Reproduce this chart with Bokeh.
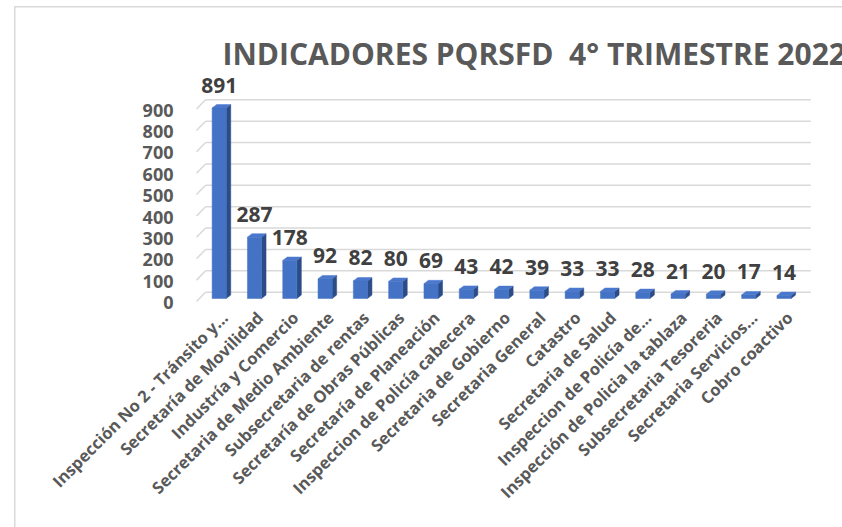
import math
from bokeh.plotting import figure
from bokeh.models import Range1d, FixedTicker, ColumnDataSource
from bokeh.core.properties import value
from bokeh.embed import file_html
from bokeh.resources import INLINE

# ---- data ----
categories = [
    "Inspección No 2 - Tránsito y...",
    "Secretaría de Movilidad",
    "Industría y Comercio",
    "Secretaria de Medio Ambiente",
    "Subsecretaria de rentas",
    "Secretaría de Obras Públicas",
    "Secretaría de Planeación",
    "Inspeccion de Policía cabecera",
    "Secretaria de Gobierno",
    "Secretaria General",
    "Catastro",
    "Secretaria de Salud",
    "Inspeccion de Policía de...",
    "Inspección de Policia la tablaza",
    "Subsecretaria Tesoreria",
    "Secretaria Servicios...",
    "Cobro coactivo",
]
counts = [891, 287, 178, 92, 82, 80, 69, 43, 42, 39, 33, 33, 28, 21, 20, 17, 14]
y_ticks = [0, 100, 200, 300, 400, 500, 600, 700, 800, 900]
title_text = "INDICADORES PQRSFD\u00a0 4° TRIMESTRE 2022"

# ---- style / geometry ----
FONT = "Open Sans"
GREY = "#595959"
DARK = "#404040"
FRONT = "#4472C4"
SIDE = "#2B4C87"
TOP = "#4A78CC"
GRID = "#D9D9D9"
bw = 0.40      # bar front width (category units)
dx = 0.127     # 3D depth (x, category units)
dy = 16.0      # 3D depth (y, value units)
back_off = 29.5
front_off = -14.0
tick_off = -19
lab_shift = 0.15

p = figure(width=842, height=527, output_backend="svg", toolbar_location=None,
           x_range=Range1d(-0.813, 17.657), y_range=Range1d(-28.06, 1066.4),
           min_border_left=190, min_border_right=0, min_border_top=70,
           min_border_bottom=223)
p.outline_line_color = None
p.xgrid.visible = False
p.ygrid.visible = False
p.background_fill_color = None
p.border_fill_color = None
p.styles = {
    "background-color": "white",
    "background-image": "linear-gradient(#D9D9D9, #D9D9D9), linear-gradient(#D9D9D9, #D9D9D9)",
    "background-size": "1.5px 100%, 100% 1.5px",
    "background-position": "14px 6px, 14px 6px",
    "background-repeat": "no-repeat",
}

n = len(categories)
xs = list(range(n))

# gridlines (back wall + left diagonal)
p.segment(x0=[-0.388] * len(y_ticks), y0=[t + back_off for t in y_ticks],
          x1=[16.76] * len(y_ticks), y1=[t + back_off for t in y_ticks],
          line_color=GRID, line_width=1.5)
p.segment(x0=[-0.643] * len(y_ticks), y0=[t + front_off for t in y_ticks],
          x1=[-0.388] * len(y_ticks), y1=[t + back_off for t in y_ticks],
          line_color=GRID, line_width=1.5)

# bars: side, top, front
side_x = [[i + bw / 2, i + bw / 2 + dx, i + bw / 2 + dx, i + bw / 2] for i in xs]
side_y = [[0, dy, v + dy, v] for v in counts]
top_x = [[i - bw / 2, i + bw / 2, i + bw / 2 + dx, i - bw / 2 + dx] for i in xs]
top_y = [[v, v, v + dy, v + dy] for v in counts]
p.patches(side_x, side_y, fill_color=SIDE, line_color=SIDE, line_width=0.5)
p.patches(top_x, top_y, fill_color=TOP, line_color=TOP, line_width=0.5)
p.vbar(x=xs, top=counts, bottom=0, width=bw, fill_color=FRONT, line_color=FRONT,
       line_width=0.5)

# data labels
src = ColumnDataSource(dict(x=xs, y=counts, t=[str(v) for v in counts]))
p.text(x="x", y="y", text="t", source=src, y_offset=-23,
       text_align="center", text_baseline="middle",
       text_font=value(FONT), text_font_style="bold", text_font_size="21px",
       text_color=DARK)

# title
p.title.text = title_text
p.title.align = "left"
p.title.offset = 32
p.title.standoff = -6
p.title.text_font = FONT
p.title.text_font_style = "bold"
p.title.text_font_size = "30px"
p.title.text_color = GREY

# y axis
p.yaxis.ticker = FixedTicker(ticks=[t + tick_off for t in y_ticks])
p.yaxis.major_label_overrides = {t + tick_off: str(t) for t in y_ticks}
p.yaxis.axis_line_color = None
p.yaxis.major_tick_line_color = None
p.yaxis.minor_tick_line_color = None
p.yaxis.major_label_standoff = 11
p.yaxis.major_label_text_font = FONT
p.yaxis.major_label_text_font_style = "bold"
p.yaxis.major_label_text_font_size = "18px"
p.yaxis.major_label_text_color = GREY

# x axis
xt = [i + lab_shift for i in xs]
p.xaxis.ticker = FixedTicker(ticks=xt)
p.xaxis.major_label_overrides = {t: c for t, c in zip(xt, categories)}
p.xaxis.major_label_orientation = math.pi / 4
p.xaxis.axis_line_color = None
p.xaxis.major_tick_line_color = None
p.xaxis.minor_tick_line_color = None
p.xaxis.major_label_standoff = 4
p.xaxis.major_label_text_font = FONT
p.xaxis.major_label_text_font_style = "bold"
p.xaxis.major_label_text_font_size = "16.5px"
p.xaxis.major_label_text_color = GREY

open("out.html", "w").write(file_html(p, INLINE))
